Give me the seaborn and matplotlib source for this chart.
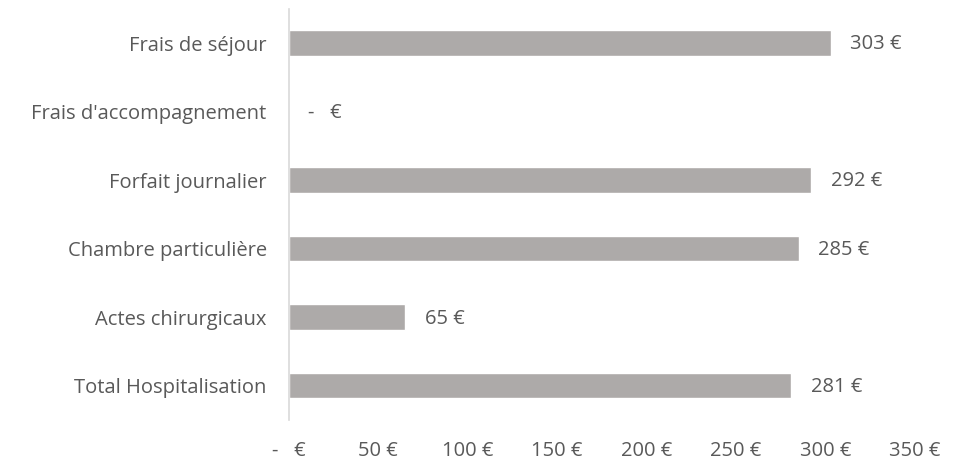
import pandas as pd
import matplotlib.pyplot as plt
import seaborn as sns

# Categories and values (euros)
categories = ['Frais de séjour', "Frais d'accompagnement", 'Forfait journalier',
              'Chambre particulière', 'Actes chirurgicaux', 'Total Hospitalisation']
values = [303, 0, 292, 285, 65, 281]
x_ticks = [0, 50, 100, 150, 200, 250, 300, 350]


def euro(v):
    # Excel accounting style: zero shows as a dash
    return '-   €' if v == 0 else f'{v:.0f} €'


df = pd.DataFrame({'categorie': categories, 'montant': values})

sns.set_theme(style='white')
plt.rcParams['font.family'] = ['Open Sans', 'DejaVu Sans']
text_color = '#595959'
fs = 14.5

fig = plt.figure(figsize=(9.63, 4.63), dpi=100)
ax = fig.add_axes([0.300, 0.093, 0.650, 0.888])

sns.barplot(data=df, x='montant', y='categorie', orient='h', color='#ADAAA9',
            width=0.37, saturation=1, ax=ax)

# Value labels next to the bars
for i, v in enumerate(values):
    ax.annotate(euro(v), xy=(v, i), xytext=(14, -1), textcoords='offset points',
                va='center', ha='left', fontsize=fs, color=text_color)

ax.set_xlim(0, 350)
ax.set_ylim(5.5, -0.5)
ax.set_xticks(x_ticks)
ax.set_xticklabels([euro(t) for t in x_ticks])
ax.set_xlabel('')
ax.set_ylabel('')
ax.tick_params(axis='both', length=0, labelsize=fs, colors=text_color)
ax.tick_params(axis='y', pad=16)
ax.tick_params(axis='x', pad=15)

for side in ['top', 'right', 'bottom']:
    ax.spines[side].set_visible(False)
ax.spines['left'].set_color('#D9D9D9')
ax.spines['left'].set_linewidth(1.2)

fig.savefig('out.png', dpi=100)
